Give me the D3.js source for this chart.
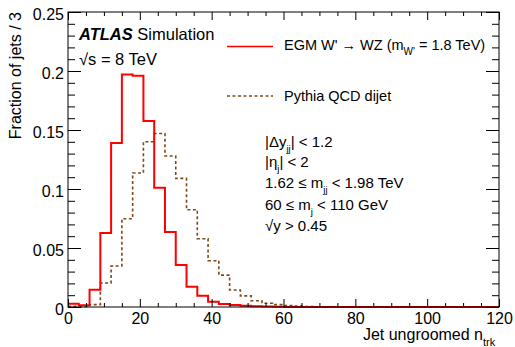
<!DOCTYPE html>
<html>
<head>
<meta charset="utf-8">
<script src="https://cdn.jsdelivr.net/npm/d3@7"></script>
<style>
  html, body { margin: 0; padding: 0; background: #fff; }
  svg { display: block; font-family: "Liberation Sans", Arial, Helvetica, sans-serif; }
</style>
</head>
<body>
<svg id="chart" width="515" height="347"></svg>
<script>
// ---- data ----
const binLowEdges = [0,3,6,9,12,15,18,21,24,27,30,33,36,39,42,45,48,51,54,57,
                     60,63,66,69,72,75,78,81,84,87,90,93,96,99,102,105,108,111,114,117];
const binWidth = 3;
const signalValues = [0.0028,0.0014,0.0147,0.0627,0.139,0.197,0.196,0.1576,0.101,0.0636,
                      0.0356,0.0172,0.0096,0.0045,0.0025,0.0017,0.0010,0.0006,0.0004,0.0002,
                      0.0001,0.0001,0,0,0,0,0,0,0,0,
                      0,0,0,0,0,0,0,0,0,0];
const qcdValues = [0.0005,0.0005,0.0020,0.0203,0.0347,0.0748,0.1136,0.140,0.147,0.128,
                   0.109,0.0824,0.0578,0.0392,0.0270,0.0144,0.0094,0.0053,0.0032,0.0020,
                   0.0012,0.0007,0.0004,0.0002,0,0,0,0,0,0,
                   0,0,0,0,0,0,0,0,0,0];
const xMajorTicks = [0,20,40,60,80,100,120];
const yMajorTicks = [0,0.05,0.1,0.15,0.2,0.25];
const yTickLabels = ["0","0.05","0.1","0.15","0.2","0.25"];

// ---- layout ----
const svg = d3.select("#chart");
const L = 68, R = 499, T = 12, B = 307;
const x = d3.scaleLinear().domain([0,120]).range([L,R]);
const y = d3.scaleLinear().domain([0,0.25]).range([B,T]);

const xMinor = d3.range(0,121,5).filter(v => v % 20 !== 0);
const yMinor = d3.range(0,26,1).map(v => v/100).filter(v => Math.round(v*100) % 5 !== 0);

// histograms
function stepPoints(vals){
  const pts = [];
  binLowEdges.forEach((lo,i) => {
    pts.push([lo, vals[i]]);
    pts.push([lo + binWidth, vals[i]]);
  });
  return pts;
}
const line = d3.line().x(d => x(d[0])).y(d => y(d[1]));

svg.append("path").attr("d", line(stepPoints(qcdValues)))
  .attr("fill","none").attr("stroke","#7a4a1a").attr("stroke-width",1.6)
  .attr("stroke-dasharray","3,2.5");
svg.append("path").attr("d", line(stepPoints(signalValues)))
  .attr("fill","none").attr("stroke","#ff0000").attr("stroke-width",2);

// axes (ticks inward)
function drawAxis(axisGen, transform){
  const g = svg.append("g").attr("transform", transform).call(axisGen);
  g.select(".domain").remove();
  g.selectAll("line").attr("stroke","#000").attr("stroke-width",1);
  return g;
}
drawAxis(d3.axisBottom(x).tickValues(xMinor).tickSize(-4).tickFormat(""), `translate(0,${B})`);
drawAxis(d3.axisTop(x).tickValues(xMinor).tickSize(-4).tickFormat(""), `translate(0,${T})`);
drawAxis(d3.axisTop(x).tickValues(xMajorTicks).tickSize(-8).tickFormat(""), `translate(0,${T})`);
const gxb = drawAxis(d3.axisBottom(x).tickValues(xMajorTicks).tickSize(-8).tickPadding(0).tickFormat(d3.format("d")), `translate(0,${B})`);
gxb.selectAll("text").attr("font-size",16).attr("fill","#000")
  .attr("font-family","Liberation Sans, Arial, sans-serif")
  .attr("y", 17).attr("dy", 0);

drawAxis(d3.axisLeft(y).tickValues(yMinor).tickSize(-7).tickFormat(""), `translate(${L},0)`);
drawAxis(d3.axisRight(y).tickValues(yMinor).tickSize(-7).tickFormat(""), `translate(${R},0)`);
drawAxis(d3.axisRight(y).tickValues(yMajorTicks).tickSize(-13).tickFormat(""), `translate(${R},0)`);
const gyl = drawAxis(d3.axisLeft(y).tickValues(yMajorTicks).tickSize(-13).tickPadding(0)
  .tickFormat((d,i) => yTickLabels[i]), `translate(${L},0)`);
gyl.selectAll("text").attr("font-size",16).attr("fill","#000")
  .attr("font-family","Liberation Sans, Arial, sans-serif")
  .attr("x",-4).attr("dy","0.45em");

// frame
svg.append("rect").attr("x",L).attr("y",T).attr("width",R-L).attr("height",B-T)
  .attr("fill","none").attr("stroke","#000").attr("stroke-width",1);

// axis titles
svg.append("text").attr("x", R - 16).attr("y", 339.5).attr("text-anchor","end")
  .attr("font-size",16).text("Jet ungroomed n");
svg.append("text").attr("x", R - 16).attr("y", 346).attr("font-size",11).text("trk");

svg.append("text").attr("transform",`translate(21,${T}) rotate(-90)`)
  .attr("text-anchor","end").attr("font-size",16).text("Fraction of jets / 3");

// ATLAS label
const atl = svg.append("text").attr("x",79).attr("y",40).attr("font-size",16.5);
atl.append("tspan").attr("font-weight","bold").attr("font-style","italic").text("ATLAS");
atl.append("tspan").text(" Simulation");
svg.append("text").attr("x",79).attr("y",65).attr("font-size",16.5).text("\u221As = 8 TeV");

// legend
svg.append("line").attr("x1",227).attr("x2",273).attr("y1",46.5).attr("y2",46.5)
  .attr("stroke","#ff0000").attr("stroke-width",1.6);
const lg1 = svg.append("text").attr("x",284).attr("y",50).attr("font-size",14.5);
lg1.append("tspan").text("EGM W' \u2192 WZ (m");
lg1.append("tspan").attr("font-size",10).attr("dy",5).text("W'");
lg1.append("tspan").attr("dy",-5).text(" = 1.8 TeV)");

svg.append("line").attr("x1",227).attr("x2",273).attr("y1",96).attr("y2",96)
  .attr("stroke","#7a4a1a").attr("stroke-width",1.6).attr("stroke-dasharray","3,2.5");
svg.append("text").attr("x",284).attr("y",100.5).attr("font-size",14.5).text("Pythia QCD dijet");

// cuts
const cuts = [
  {y:147, parts:[["|\u0394y",0],["jj",1],["| < 1.2",0]]},
  {y:167, parts:[["|\u03B7",0],["j",1],["| < 2",0]]},
  {y:188, parts:[["1.62 \u2264 m",0],["jj",1],[" < 1.98 TeV",0]]},
  {y:210, parts:[["60 \u2264 m",0],["j",1],[" < 110 GeV",0]]},
  {y:231, parts:[["\u221Ay > 0.45",0]]}
];
cuts.forEach(c => {
  const t = svg.append("text").attr("x",265).attr("y",c.y).attr("font-size",15);
  let prevSub = 0;
  c.parts.forEach(p => {
    const ts = t.append("tspan").text(p[0]);
    if (p[1]) { ts.attr("font-size",9.5).attr("dy",5); prevSub = 1; }
    else if (prevSub) { ts.attr("dy",-5); prevSub = 0; }
  });
});
</script>
</body>
</html>
